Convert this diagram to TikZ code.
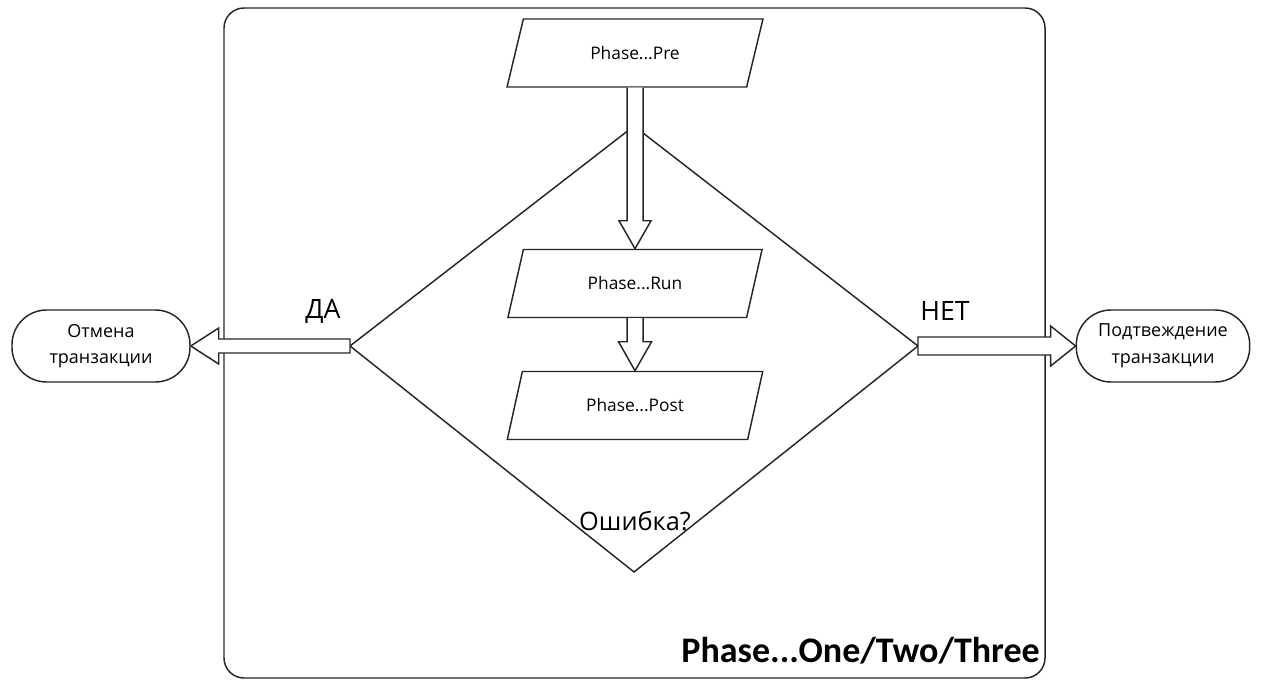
\documentclass[tikz,border=0pt]{standalone}
\usepackage{fontspec}
\setmainfont{Open Sans}
\newfontfamily\carlito{Carlito}
\usetikzlibrary{shapes.geometric,calc}
\begin{document}
\begin{tikzpicture}[x=0.75pt,y=-0.75pt,
  line/.style={draw=black!85,line width=1.1pt},
  para/.style={line, shape=trapezium, trapezium left angle=64, trapezium right angle=116,
    trapezium stretches=true, minimum width=192pt, minimum height=51pt, inner sep=0pt,
    font=\fontsize{13}{15}\selectfont, fill=white},
  term/.style={line, rectangle, rounded corners=26pt, minimum height=54pt, align=center,
    font=\fontsize{13.5}{20}\selectfont, inner sep=0pt},
  barrow/.style={line, fill=white, line join=miter},
  lbl/.style={font=\fontsize{20}{24}\selectfont}]
\useasboundingbox (0,0) rectangle (1262,680);
\draw[line, rounded corners=15pt] (224,8) rectangle (1045,678);
% diamond
\coordinate (dT) at (634,126);
\coordinate (dR) at (918,346);
\coordinate (dB) at (634,572);
\coordinate (dL) at (350,346);
\draw[line] (dT) -- (dR) -- (dB) -- (dL) -- cycle;
% process boxes
\node[para] (pre) at (635,53) {Phase...Pre};
\node[para] (run) at (635,283.5) {Phase...Run};
\node[para] (post) at (635,405.5) {Phase...Post};
% terminals
\node[term, minimum width=133.5pt] (cancel) at (101,346) {Отмена\\транзакции};
\node[term, minimum width=130pt] (commit) at (1163,346) {Подтвеждение\\транзакции};
% block arrows
\draw[barrow] ($(pre.south)+(-8,0)$) -- ($(run.north)+(-8,-28)$) -- ($(run.north)+(-16,-28)$)
  -- (run.north) -- ($(run.north)+(16,-28)$) -- ($(run.north)+(8,-28)$) -- ($(pre.south)+(8,0)$);
\draw[barrow] ($(run.south)+(-8,0)$) -- ($(post.north)+(-8,-29)$) -- ($(post.north)+(-16.5,-29)$)
  -- (post.north) -- ($(post.north)+(16.5,-29)$) -- ($(post.north)+(8,-29)$) -- ($(run.south)+(8,0)$);
\draw[barrow] ($(dL)+(0,-7)$) -- ($(cancel.east)+(28,-7)$) -- ($(cancel.east)+(28,-18)$)
  -- (cancel.east) -- ($(cancel.east)+(28,18)$) -- ($(cancel.east)+(28,7)$) -- ($(dL)+(0,7)$) -- cycle;
\draw[barrow] ($(dR)+(0,-9)$) -- ($(commit.west)+(-25,-9)$) -- ($(commit.west)+(-25,-20)$)
  -- (commit.west) -- ($(commit.west)+(-25,20)$) -- ($(commit.west)+(-25,9)$) -- ($(dR)+(0,9)$) -- cycle;
% labels
\node[lbl] (yes) at (323,311) {ДА};
\node[lbl] (no) at (945,311) {НЕТ};
\node[lbl, font=\fontsize{19}{22}\selectfont] (err) at (635,521) {Ошибка?};
\node[anchor=east, inner sep=0pt, font=\carlito\bfseries\fontsize{27}{30}\selectfont] (title) at (1040,651) {Phase...One/Two/Three};
\end{tikzpicture}
\end{document}
